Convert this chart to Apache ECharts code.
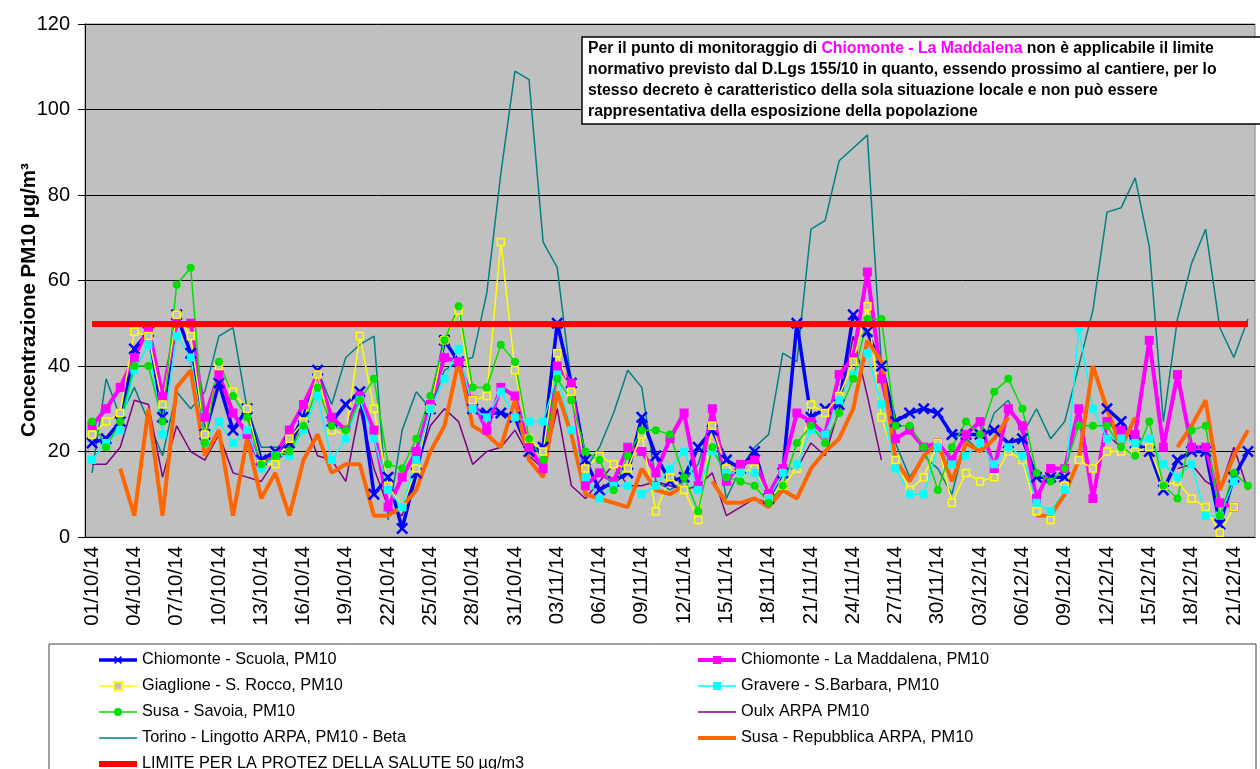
<!DOCTYPE html>
<html>
<head>
<meta charset="utf-8">
<title>PM10 Val di Susa - ottobre / dicembre 2014</title>
<script src="https://cdn.jsdelivr.net/npm/echarts@6.0.0/dist/echarts.min.js"></script>
<style>
    html, body { margin: 0; padding: 0; background: #fff; }
    #chartPm10 { width: 1260px; height: 769px; }
</style>
</head>
<body>
<div id="chartPm10"></div>
<script>
    // giorni (categorie dell'asse x)
    var dates = [
        '01/10/14','02/10/14','03/10/14','04/10/14','05/10/14','06/10/14','07/10/14','08/10/14','09/10/14','10/10/14',
        '11/10/14','12/10/14','13/10/14','14/10/14','15/10/14','16/10/14','17/10/14','18/10/14','19/10/14','20/10/14',
        '21/10/14','22/10/14','23/10/14','24/10/14','25/10/14','26/10/14','27/10/14','28/10/14','29/10/14','30/10/14',
        '31/10/14','01/11/14','02/11/14','03/11/14','04/11/14','05/11/14','06/11/14','07/11/14','08/11/14','09/11/14',
        '10/11/14','11/11/14','12/11/14','13/11/14','14/11/14','15/11/14','16/11/14','17/11/14','18/11/14','19/11/14',
        '20/11/14','21/11/14','22/11/14','23/11/14','24/11/14','25/11/14','26/11/14','27/11/14','28/11/14','29/11/14',
        '30/11/14','01/12/14','02/12/14','03/12/14','04/12/14','05/12/14','06/12/14','07/12/14','08/12/14','09/12/14',
        '10/12/14','11/12/14','12/12/14','13/12/14','14/12/14','15/12/14','16/12/14','17/12/14','18/12/14','19/12/14',
        '20/12/14','21/12/14','22/12/14'
    ]

    var chiomonteScuola = [
        22,23,27,44,48,28,52,43,24,36,25,30,18,20,
        22,28,39,27,31,34,10,14,2,15,30,46,41,30,
        29,29,28,20,21,50,36,18,11,13,15,28,19,
        13,14,21,25,18,16,20,9,15,50,28,30,31,52,
        48,40,27,29,30,29,24,24,24,25,22,23,14,
        14,14,null,null,30,27,22,20,11,18,20,20,3,14,20
    ]
    var chiomonteMaddalena = [
        26,30,35,42,49,33,50,50,28,38,29,24,17,19,
        25,31,38,28,25,33,25,7,14,20,31,42,41,32,
        25,35,33,21,16,40,36,12,15,13,21,20,15,
        23,29,12,30,13,17,18,10,16,29,27,24,38,42,
        62,37,23,25,21,22,18,24,27,16,30,26,9,
        16,16,30,9,27,25,24,46,21,38,21,21,8,7,null
    ]
    var giaglione = [
        24,27,29,48,47,31,52,47,24,40,34,30,17,17,
        23,27,38,25,24,47,30,12,7,16,30,46,53,32,
        33,69,39,23,20,43,34,16,19,17,16,24,6,
        14,11,4,26,16,15,16,9,12,16,31,29,33,41,
        54,28,18,11,14,22,8,15,13,14,20,18,6,
        4,12,18,16,20,20,20,21,12,13,9,7,1,7,null
    ]
    var gravere = [
        18,22,25,39,45,24,47,42,22,27,22,25,16,19,
        19,25,33,18,23,32,23,11,7,18,30,37,44,30,
        28,34,28,27,27,38,25,14,9,12,12,10,12,
        16,20,11,20,15,15,15,9,15,17,25,24,32,38,
        43,31,16,10,10,21,17,19,22,17,21,19,8,
        6,11,49,30,23,23,22,23,17,14,17,5,5,13,null
    ]
    var susaSavoia = [
        27,21,27,40,40,27,59,63,22,41,33,28,17,19,
        20,26,35,26,25,32,37,17,16,23,33,46,54,35,
        35,45,41,23,18,37,32,20,18,11,19,25,25,
        24,14,6,21,14,13,12,8,12,22,26,22,29,37,
        51,51,26,26,21,11,21,27,24,34,37,30,15,
        13,16,26,26,26,21,19,27,12,9,25,26,5,15,12
    ]
    var oulx = [
        17,17,21,32,31,14,26,20,18,24,15,14,13,18,
        20,28,19,18,13,30,16,7,5,16,26,30,27,17,
        20,21,25,19,16,30,12,9,13,17,12,12,13,
        12,11,12,15,5,7,9,8,16,16,22,19,30,47,
        33,18,null,null,null,null,null,null,null,null,null,null,null,
        null,null,null,null,24,21,28,null,null,16,17,13,11,21,11
    ]
    var torinoLingotto = [
        15,37,28,35,27,19,34,30,34,47,49,30,21,21,
        21,28,39,31,42,45,47,4,25,34,30,39,41,42,
        57,85,109,107,69,63,36,16,21,29,39,35,13,
        11,13,17,28,9,16,21,24,43,41,72,74,88,91,
        94,40,22,14,19,16,10,23,20,29,32,24,30,
        23,27,40,53,76,77,84,68,27,51,64,72,49,42,51
    ]
    var susaRepubblica = [
        null,null,16,5,30,5,35,39,19,25,5,23,9,15,
        5,18,24,15,17,17,5,5,7,11,20,26,41,26,
        24,21,32,18,14,34,24,10,9,8,7,16,11,
        10,12,null,13,8,8,9,7,11,9,16,20,23,30,
        46,41,18,13,19,22,13,22,20,23,28,null,5,
        5,10,18,40,30,21,28,null,null,21,26,32,11,19,25
    ]
    var limiteSalute = 50

    var yTicks = { min: 0, max: 120, interval: 20 }

    var names = {
        scuola: 'Chiomonte - Scuola, PM10',
        maddalena: 'Chiomonte - La Maddalena, PM10',
        giaglione: 'Giaglione - S. Rocco, PM10',
        gravere: 'Gravere - S.Barbara, PM10',
        savoia: 'Susa - Savoia, PM10',
        oulx: 'Oulx ARPA PM10',
        torino: 'Torino - Lingotto ARPA, PM10 - Beta',
        repubblica: 'Susa - Repubblica ARPA, PM10',
        limite: 'LIMITE PER LA PROTEZ DELLA SALUTE 50 \u00b5g/m3'
    }

    var font = '"Liberation Sans", Arial, sans-serif'
    var crossSymbol = 'path://M0,1.5L1.5,0L5,3.5L8.5,0L10,1.5L6.5,5L10,8.5L8.5,10L5,6.5L1.5,10L0,8.5L3.5,5Z'
    var noMarker = 'rgba(0,0,0,0)'

    function lineSerie(name, data, color, width, extra) {
        var s = {
            name: name,
            type: 'line',
            data: data,
            color: color,
            connectNulls: false,
            showAllSymbol: true,
            lineStyle: { color: color, width: width },
            z: 3
        }
        for (var k in extra) s[k] = extra[k]
        return s
    }

    // serie senza marcatori: il simbolo c'e' ma trasparente (cosi' la legenda mostra solo la linea)
    function plainSerie(name, data, color, width) {
        return lineSerie(name, data, color, width, {
            symbol: 'circle',
            showSymbol: false,
            itemStyle: { color: noMarker }
        })
    }

    var legendBase = {
        orient: 'vertical',
        top: 647,
        height: 160,
        itemWidth: 38,
        itemHeight: 10,
        itemGap: 10,
        lineStyle: { width: 'inherit' },
        textStyle: { fontSize: 16.3, fontFamily: font, color: '#000', lineHeight: 16 }
    }

    var myChart = echarts.init(document.getElementById('chartPm10'))
    var option = {
        animation: false,
        backgroundColor: '#fff',
        textStyle: { fontFamily: font },
        grid: {
            left: 85, right: 5, top: 24, bottom: 232,
            show: true,
            backgroundColor: '#c0c0c0',
            borderColor: '#808080',
            borderWidth: 1
        },
        legend: [
            Object.assign({}, legendBase, {
                left: 91,
                data: [names.scuola, names.giaglione, names.savoia, names.torino, names.limite]
            }),
            Object.assign({}, legendBase, {
                left: 691,
                data: [names.maddalena, names.gravere, names.oulx, names.repubblica]
            })
        ],
        xAxis: {
            type: 'category',
            data: dates,
            boundaryGap: true,
            axisLine: { lineStyle: { color: '#000', width: 1 } },
            axisTick: { interval: 2, length: 5, lineStyle: { color: '#000' } },
            axisLabel: { interval: 2, rotate: 90, fontSize: 20.5, color: '#000', margin: 9 }
        },
        yAxis: {
            type: 'value',
            min: yTicks.min,
            max: yTicks.max,
            interval: yTicks.interval,
            axisLine: { show: true, lineStyle: { color: '#000' } },
            axisTick: { show: true, length: 7, lineStyle: { color: '#000' } },
            axisLabel: { fontSize: 20, color: '#000', margin: 15 },
            splitLine: { lineStyle: { color: '#000', width: 1 } }
        },
        series: [
            {
                name: names.limite,
                type: 'line',
                data: [],
                color: '#ff0000',
                symbol: 'circle',
                itemStyle: { color: noMarker },
                lineStyle: { color: '#ff0000', width: 6 },
                z: 2,
                markLine: {
                    silent: true,
                    symbol: 'none',
                    label: { show: false },
                    lineStyle: { color: '#ff0000', width: 6, type: 'solid' },
                    data: [[
                        { coord: [dates[0], limiteSalute] },
                        { coord: [dates[dates.length - 1], limiteSalute] }
                    ]]
                }
            },
            plainSerie(names.torino, torinoLingotto, '#008080', 1.5),
            plainSerie(names.oulx, oulx, '#800080', 1.5),
            lineSerie(names.scuola, chiomonteScuola, '#0000ff', 3.5, {
                symbol: crossSymbol, symbolSize: 12
            }),
            lineSerie(names.maddalena, chiomonteMaddalena, '#ff00ff', 4, {
                symbol: 'rect', symbolSize: 9
            }),
            lineSerie(names.giaglione, giaglione, '#ffff00', 1.5, {
                symbol: 'rect', symbolSize: 7,
                itemStyle: { color: '#c0c0c0', borderColor: '#ffff00', borderWidth: 1.5 }
            }),
            lineSerie(names.gravere, gravere, '#00ffff', 1.5, {
                symbol: 'rect', symbolSize: 8
            }),
            lineSerie(names.savoia, susaSavoia, '#00e000', 1.5, {
                symbol: 'circle', symbolSize: 8
            }),
            plainSerie(names.repubblica, susaRepubblica, '#ff6600', 4)
        ],
        graphic: [
            {
                // titolo asse y
                type: 'text',
                x: 29,
                y: 300,
                rotation: Math.PI / 2,
                silent: true,
                style: {
                    text: 'Concentrazione PM10 \u00b5g/m\u00b3',
                    fill: '#000',
                    fontSize: 20.5,
                    fontWeight: 'bold',
                    fontFamily: font,
                    align: 'center',
                    verticalAlign: 'middle'
                }
            },
            {
                type: 'rect',
                shape: { x: 49, y: 644, width: 1207, height: 140 },
                style: { fill: 'none', stroke: '#404040', lineWidth: 1 },
                silent: true
            },
            {
                type: 'rect',
                shape: { x: 582, y: 37, width: 690, height: 87 },
                style: { fill: '#fff', stroke: '#000', lineWidth: 1.5 },
                z: 100,
                silent: true
            },
            {
                type: 'text',
                x: 588,
                y: 38,
                z: 101,
                silent: true,
                style: {
                    text: 'Per il punto di monitoraggio di {m|Chiomonte - La Maddalena} non \u00e8 applicabile il limite\n' +
                          'normativo previsto dal D.Lgs 155/10 in quanto, essendo prossimo al cantiere, per lo\n' +
                          'stesso decreto \u00e8 caratteristico della sola situazione locale e non pu\u00f2 essere\n' +
                          'rappresentativa della esposizione della popolazione',
                    fill: '#000',
                    fontSize: 15.8,
                    fontWeight: 'bold',
                    fontFamily: font,
                    lineHeight: 21,
                    verticalAlign: 'top',
                    rich: {
                        m: { fill: '#ff00ff', fontSize: 15.8, fontWeight: 'bold', fontFamily: font, lineHeight: 21 }
                    }
                }
            }
        ]
    }
    myChart.setOption(option)
    window.addEventListener('resize', function () { myChart.resize() }, false)
</script>
</body>
</html>
